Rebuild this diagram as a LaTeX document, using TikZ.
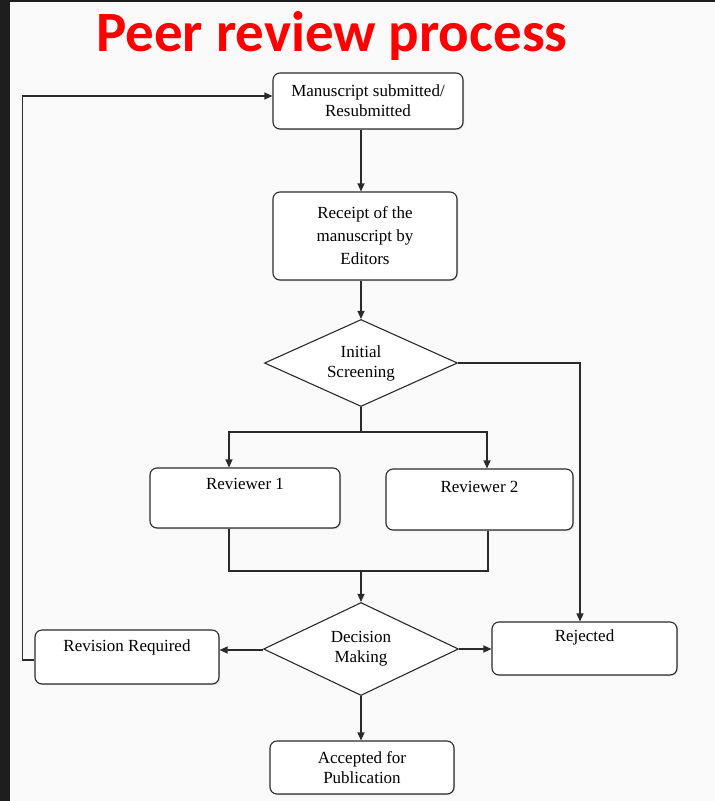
\documentclass[tikz,border=0pt]{standalone}
\usepackage{fontspec}
\setmainfont{Liberation Serif}
\newfontfamily\bodyfont{Liberation Serif}
\newfontfamily\titlefont{Carlito}
\usetikzlibrary{arrows.meta}
\usetikzlibrary{positioning}
\usetikzlibrary{shapes.geometric}
\usetikzlibrary{shadows}
\definecolor{pagebg}{HTML}{FAFAFA}
\definecolor{framedark}{HTML}{1E1E1E}
\definecolor{linegray}{HTML}{2A2A2A}
\tikzset{->, > = {Stealth[length = 8pt, width = 7pt, inset = 0pt]}, node distance = 1in}
\tikzset{
  box/.style = {draw = linegray, line width = 1.1pt, rounded corners = 7pt, fill = white,
    align = center, inner sep = 4pt,
    drop shadow = {shadow xshift = 1pt, shadow yshift = -1pt, opacity = 0.25}},
  decision/.style = {diamond, draw = linegray, line width = 1.1pt, fill = white,
    align = center, inner sep = 0pt, aspect = 2.2},
  flow/.style = {draw = linegray, line width = 1.2pt}
}

\begin{document}
\begin{tikzpicture}[x = 1pt, y = -1pt, font = \bodyfont\fontsize{17}{20}\selectfont]
  % page
  \fill [pagebg] (0,0) rectangle (715,801);
  \fill [framedark] (0,0) rectangle (10,801);
  \fill [framedark] (0,0) rectangle (715,2);
  \node [anchor = base, text = red, inner sep = 0pt,
    font = \titlefont\bfseries\fontsize{57}{60}\selectfont] (title) at (332,51) {Peer review process};
  % nodes
  \node [box, minimum width = 190pt, minimum height = 56pt] (manu) at (368,101)
    {Manuscript submitted/\\Resubmitted};
  \node [box, minimum width = 184pt, minimum height = 88pt,
    font = \bodyfont\fontsize{17}{23}\selectfont] (receipt) at (365,236)
    {Receipt of the\\manuscript by\\Editors};
  \node [decision, minimum width = 193pt, minimum height = 87pt] (screen) at (361,363)
    {Initial\\Screening};
  \node [box, minimum width = 190pt, minimum height = 60pt, text height = 17pt,
    text depth = 35pt] (rev1) at (245,498) {Reviewer 1};
  \node [box, minimum width = 187pt, minimum height = 61pt, text height = 19pt,
    text depth = 34pt] (rev2) at (479.5,499.5) {Reviewer 2};
  \node [decision, minimum width = 195pt, minimum height = 93pt] (decide) at (361,649)
    {Decision\\Making};
  \node [box, minimum width = 184pt, minimum height = 54pt, text height = 17pt,
    text depth = 29pt] (revise) at (127,657) {Revision Required};
  \node [box, minimum width = 185pt, minimum height = 53pt, text height = 15pt,
    text depth = 30pt] (reject) at (584.5,648.5) {Rejected};
  \node [box, minimum width = 184pt, minimum height = 53pt] (accept) at (362,767.5)
    {Accepted for\\Publication};
  \coordinate (split) at (361,432);
  \coordinate (merge) at (361,571);
  % paths
  \draw [flow] (manu.south -| screen) -- (receipt.north -| screen);
  \draw [flow] (receipt.south -| screen) -- (screen.north);
  \draw [flow, -] (screen.south) -- (split);
  \draw [flow] (split) -| ([xshift = -16pt]rev1.north);
  \draw [flow] (split) -| ([xshift = 7.5pt]rev2.north);
  \draw [flow, -] ([xshift = -16pt]rev1.south) |- (merge) -| ([xshift = 8.5pt]rev2.south);
  \draw [flow] (merge) -- (decide.north);
  \draw [flow] (screen.east) -| ([xshift = -4.5pt]reject.north);
  \draw [flow] ([yshift = -1pt]decide.west) -- ([yshift = -1pt]decide.west -| revise.east);
  \draw [flow] (decide.east) -- (decide.east -| reject.west);
  \draw [flow] (decide.south) -- (decide.south |- accept.north);
  \draw [flow] ([yshift = -3pt]revise.west) -- ++(-12,0) |- ([yshift = 5pt]manu.west);
\end{tikzpicture}
\end{document}
